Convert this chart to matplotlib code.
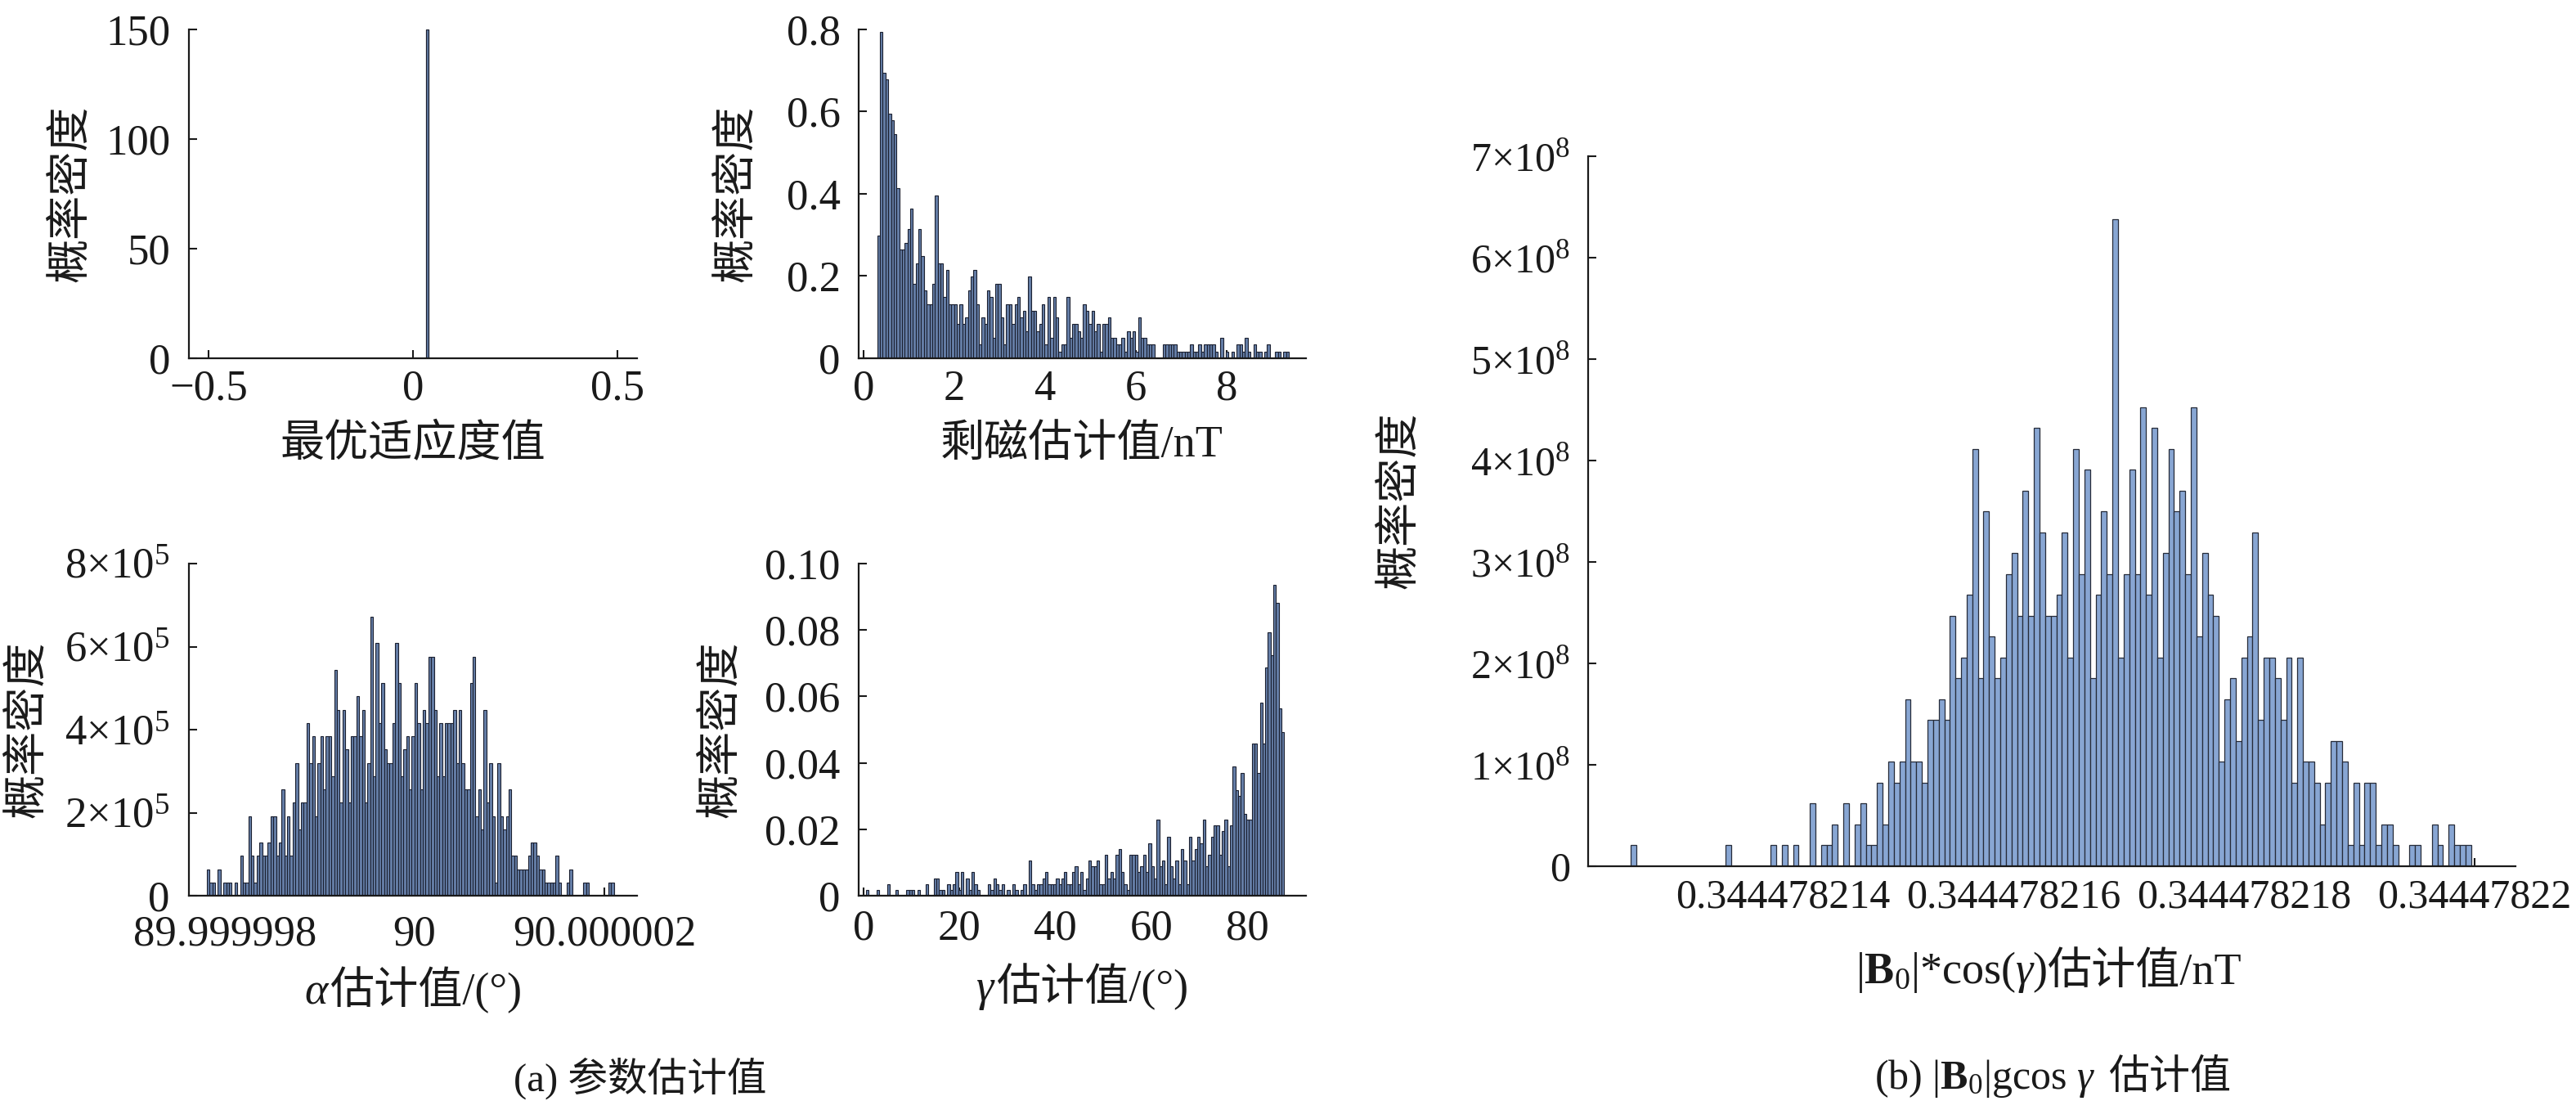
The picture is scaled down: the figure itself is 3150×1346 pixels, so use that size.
import numpy as np
import matplotlib
matplotlib.use('Agg')
import matplotlib.pyplot as plt
from matplotlib.offsetbox import TextArea, HPacker, AnnotationBbox

plt.rcParams['font.family'] = ['Liberation Serif', 'Noto Sans CJK SC']
plt.rcParams['mathtext.fontset'] = 'custom'
plt.rcParams['mathtext.rm'] = 'Liberation Serif'
plt.rcParams['mathtext.it'] = 'Liberation Serif:italic'
plt.rcParams['mathtext.bf'] = 'Liberation Serif:bold'
plt.rcParams['axes.unicode_minus'] = True

# ---------------------------------------------------------------- data
N_SAMPLES = 1000

# best fitness histogram (single bin)
fit_bin_left = 0.0322
fit_bin_width = 1 / 150
fit_density = [150]

# remanence estimate histogram (counts per bin)
rem_bin_start = 0.30
rem_bin_width = 0.0605
rem_counts = [
    18, 48, 42, 41, 36, 35, 33, 25, 16, 16, 17, 19, 22, 11, 14, 19, 15, 10, 8, 8, 11, 24,
    14, 14, 9, 13, 8, 8, 8, 5, 8, 5,
    6, 10, 12, 13, 8, 2, 6, 5, 10, 9,
    3, 11, 11, 6, 2, 8, 8, 5, 8, 9,
    6, 7, 4, 12, 7, 7, 4, 5, 8, 2,
    9, 3, 9, 6, 1, 2, 2, 9, 3, 5,
    5, 4, 3, 8, 7, 5, 7, 4, 5, 1,
    5, 5, 6, 3,
    3, 2, 2, 3, 1, 4, 3, 4, 1, 6, 3, 3,
    2, 2, 2, 0, 0, 0,
    2, 2, 2, 2, 2, 1, 1, 1, 1, 1,
    2, 1, 1, 2, 1, 2, 2, 2, 2, 1,
    0, 3, 0, 1, 0, 1, 0,
    2, 2, 1, 3, 1,
    0, 2, 1, 1, 0, 1, 2,
    0, 0, 1, 1, 0, 1, 1,
]

# alpha estimate histogram
alpha_bin_start = 90 - 2.19e-6
alpha_bin_end = 90 + 2.10e-6
alpha_unit = 3.2e4          # density of one sample in a bin
alpha_counts = [
    2, 1, 1, 0, 2, 0, 1, 1, 1, 0, 1, 0, 3, 1, 1, 6, 3, 1,
    3, 4, 3, 3, 4, 6, 6, 3, 4, 8,
    3, 6, 3, 7, 10, 5, 7, 7, 13, 10,
    12, 6, 10, 12, 8, 12, 12, 9, 17, 14,
    7, 14, 11, 7, 12, 12, 15, 12, 14, 7,
    10, 21, 9, 19, 13, 16, 11, 10, 10, 13,
    19, 16, 9, 11, 12, 8, 12, 16, 13, 8,
    14, 13, 18, 18, 14, 9, 13, 9, 13, 13,
    13, 14, 10, 14, 10, 8, 8, 16, 18, 6,
    8, 5, 14, 7, 10, 6, 1, 10, 6, 5,
    6, 8, 3, 3, 2, 2, 2, 2, 3, 4,
    4, 3, 2, 2, 1, 1, 1, 1, 3, 1,
    0, 0, 1, 2, 0, 0, 0, 0, 1, 1, 0, 0, 0, 0, 0, 0, 0, 1, 1,
]

# gamma estimate histogram
gamma_bin_start = 0.45
gamma_bin_width = 0.567
gamma_counts = [
    1, 0, 0, 0, 1, 0, 0, 0, 2, 0, 0, 1, 0, 0, 0, 1, 1, 1, 0, 1,
    0, 0, 2, 0, 0, 3, 3, 1, 1, 0, 2, 1, 2, 4, 1, 4, 0, 3, 1, 4,
    2, 1, 0, 0, 0, 2, 1, 3, 2, 1, 2, 0, 1, 0, 2, 1, 0, 1, 2, 0,
    6, 2, 1, 2, 2, 3, 4, 2, 2, 2,
    3, 2, 3, 4, 2, 2, 4, 5, 2, 4,
    1, 3, 6, 5, 5, 6, 2, 2, 7, 3,
    4, 3, 7, 8, 4, 2, 1, 7, 7, 7,
    4, 5, 7, 4, 9, 5, 3, 13, 5, 6,
    2, 10, 5, 3, 6, 2, 8, 6, 2, 10,
    6, 8, 10, 9, 13, 5, 7, 10, 12, 12,
    7, 11, 13, 5, 12, 22, 18, 17, 21, 14,
    13, 13, 26, 26, 21, 33, 26, 39, 45, 41,
    53, 50, 32, 28,
]

# |B0|*cos(gamma) estimate histogram
b0_bin_start = 0.344478214 - 1.3206e-9
b0_bin_width = 4.86e-11
b0_counts = [
    1, 0, 0, 0, 0, 0, 0, 0, 0, 0, 0, 0, 0, 0, 0, 0, 0, 1, 0, 0,
    0, 0, 0, 0, 0, 1, 0, 1, 0, 1, 0, 0, 3, 0, 1, 1, 2, 0, 3, 0,
    2, 3, 1, 1, 4, 2, 5, 4, 5, 8, 5, 5, 4, 7, 7, 8, 7, 12, 9, 10,
    13, 20, 9, 17, 11, 9, 10, 14, 15, 12, 18, 12, 21, 16, 12, 12, 13, 16, 10, 20,
    14, 19, 9, 13, 17, 14, 31, 10, 14, 19, 14, 22, 13, 21, 10, 15, 20, 17, 18, 14,
    22, 11, 15, 13, 12, 5, 8, 9, 6, 10, 11, 16, 7, 10, 10, 9, 7, 10, 4, 10,
    5, 5, 4, 2, 4, 6, 6, 5, 1, 4, 1, 4, 4, 1, 2, 2, 1, 0, 0, 1,
    1, 0, 0, 2, 1, 0, 2, 1, 1, 1,
]

# tick values / labels
fit_xticks = [-0.5, 0, 0.5]
fit_xticklabels = ['\u22120.5', '0', '0.5']
fit_yticks = [0, 50, 100, 150]
rem_xticks = [0, 2, 4, 6, 8]
rem_yticks = [0, 0.2, 0.4, 0.6, 0.8]
rem_yticklabels = ['0', '0.2', '0.4', '0.6', '0.8']
alpha_xticks = [90 - 2e-6, 90, 90 + 2e-6]
alpha_xticklabels = ['89.999998', '90', '90.000002']
alpha_xminor = [90 - 1e-6, 90 + 1e-6]
alpha_yticks = [0, 2e5, 4e5, 6e5, 8e5]
alpha_yticklabels = ['0', '2\u00d710$^{5}$', '4\u00d710$^{5}$', '6\u00d710$^{5}$', '8\u00d710$^{5}$']
gamma_xticks = [0, 20, 40, 60, 80]
gamma_yticks = [0, 0.02, 0.04, 0.06, 0.08, 0.10]
gamma_yticklabels = ['0', '0.02', '0.04', '0.06', '0.08', '0.10']
b0_xticks = [0.344478214, 0.344478216, 0.344478218, 0.344478220]
b0_xticklabels = ['0.344478214', '0.344478216', '0.344478218', '0.34447822']
b0_xminor = [0.344478215, 0.344478217, 0.344478219]
b0_yticks = [0, 1e8, 2e8, 3e8, 4e8, 5e8, 6e8, 7e8]
b0_yticklabels = ['0'] + ['%d\u00d710$^{8}$' % i for i in range(1, 8)]

# ---------------------------------------------------------------- figure
W, H = 3150, 1346
fig = plt.figure(figsize=(W / 100, H / 100), dpi=100)

FAM = ['Liberation Serif', 'Noto Sans CJK SC']
TICK_FS = 38
LAB_FS = 39
CAP_FS = 35
DARK_FACE = '#667fa8'
DARK_EDGE = '#1b2030'
LIGHT_FACE = '#88a6d3'
LIGHT_EDGE = '#262b38'
INK = '#1a1a1a'


def make_axes(l, r, t, b):
    ax = fig.add_axes([l / W, 1 - b / H, (r - l) / W, (b - t) / H])
    for s in ('top', 'right'):
        ax.spines[s].set_visible(False)
    for s in ('left', 'bottom'):
        ax.spines[s].set_linewidth(1.6)
        ax.spines[s].set_color(INK)
    ax.tick_params(which='both', direction='in', length=7, width=1.5,
                   color=INK, labelcolor=INK, labelsize=TICK_FS)
    ax.tick_params(axis='y', pad=16)
    ax.tick_params(axis='x', pad=10)
    ax.set_axisbelow(True)
    return ax


def ftext(x, y, s, **kw):
    fig.text(x / W, 1 - y / H, s, ha='center', va='center', color=INK, **kw)


def rich(x, y, pieces, sep=0):
    areas = [TextArea(t, textprops=dict(color=INK, **p)) for t, p in pieces]
    box = HPacker(children=areas, align='baseline', pad=0, sep=sep)
    ab = AnnotationBbox(box, (x / W, 1 - y / H), xycoords='figure fraction',
                        frameon=False, box_alignment=(0.5, 0.5), pad=0)
    fig.add_artist(ab)


def hist_bars(ax, left_edges, heights, width, face, edge, lw):
    ax.bar(left_edges, heights, width=width, align='edge',
           color=face, edgecolor=edge, linewidth=lw, zorder=2)


LATIN = dict(family='Liberation Serif', fontsize=LAB_FS)
CJK = dict(family=FAM, fontsize=LAB_FS)

# ---- panel 1: best fitness
ax1 = make_axes(231, 779, 36, 438)
hist_bars(ax1, [fit_bin_left], fit_density, fit_bin_width, DARK_FACE, DARK_EDGE, 0.9)
ax1.set_xlim(-0.548, 0.548)
ax1.set_ylim(0, 150)
ax1.set_xticks(fit_xticks, fit_xticklabels)
ax1.set_yticks(fit_yticks, [str(v) for v in fit_yticks])
ftext(505, 545, '最优适应度值', family=FAM, fontsize=LAB_FS)
ftext(88, 237, '概率密度', family=FAM, fontsize=LAB_FS, rotation=90)

# ---- panel 2: remanence
ax2 = make_axes(1050, 1597, 36, 438)
rc = np.array(rem_counts, dtype=float)
rem_edges = rem_bin_start + rem_bin_width * np.arange(len(rc))
hist_bars(ax2, rem_edges, rc / (N_SAMPLES * rem_bin_width), rem_bin_width,
          DARK_FACE, DARK_EDGE, 0.8)
ax2.set_xlim(-0.11, 9.75)
ax2.set_ylim(0, 0.8)
ax2.set_xticks(rem_xticks, [str(v) for v in rem_xticks])
ax2.set_yticks(rem_yticks, rem_yticklabels)
ftext(1323, 545, '剩磁估计值/nT', family=FAM, fontsize=LAB_FS)
ftext(902, 237, '概率密度', family=FAM, fontsize=LAB_FS, rotation=90)

# ---- panel 3: alpha
ax3 = make_axes(231, 779, 689, 1095)
ac = np.array(alpha_counts, dtype=float)
alpha_w = (alpha_bin_end - alpha_bin_start) / len(ac)
alpha_edges = alpha_bin_start + alpha_w * np.arange(len(ac))
hist_bars(ax3, alpha_edges, ac * alpha_unit, alpha_w, DARK_FACE, DARK_EDGE, 0.8)
ax3.set_xlim(90 - 2.379e-6, 90 + 2.345e-6)
ax3.set_ylim(0, 8e5)
ax3.set_xticks(alpha_xticks, alpha_xticklabels)
ax3.set_xticks(alpha_xminor, minor=True)
ax3.set_yticks(alpha_yticks, alpha_yticklabels)
ax3.tick_params(axis='x', pad=17)
ax3.tick_params(axis='y', pad=17)
rich(505, 1210, [('$\\alpha$', LATIN), ('估计值/(°)', CJK)])
ftext(35, 892, '概率密度', family=FAM, fontsize=LAB_FS, rotation=90)

# ---- panel 4: gamma
ax4 = make_axes(1050, 1597, 689, 1095)
gc = np.array(gamma_counts, dtype=float)
gamma_edges = gamma_bin_start + gamma_bin_width * np.arange(len(gc))
hist_bars(ax4, gamma_edges, gc / (N_SAMPLES * gamma_bin_width), gamma_bin_width,
          DARK_FACE, DARK_EDGE, 0.8)
ax4.set_xlim(-1.0, 92.3)
ax4.set_ylim(0, 0.10)
ax4.set_xticks(gamma_xticks, [str(v) for v in gamma_xticks])
ax4.set_yticks(gamma_yticks, gamma_yticklabels)
ax4.tick_params(axis='x', pad=12)
rich(1323, 1207, [('$\\gamma$', LATIN), ('估计值/(°)', CJK)])
ftext(883, 892, '概率密度', family=FAM, fontsize=LAB_FS, rotation=90)

ftext(783, 1318, '(a) 参数估计值', family=FAM, fontsize=CAP_FS)

# ---- panel 5: |B0| cos(gamma)
ax5 = make_axes(1942, 3076, 191, 1059)
bc = np.array(b0_counts, dtype=float)
b0_edges = b0_bin_start + b0_bin_width * np.arange(len(bc))
hist_bars(ax5, b0_edges, bc / (N_SAMPLES * b0_bin_width), b0_bin_width,
          LIGHT_FACE, LIGHT_EDGE, 0.9)
ax5.set_xlim(0.344478214 - 1.688e-9, 0.344478214 + 6.355e-9)
ax5.set_ylim(0, 7e8)
ax5.set_xticks(b0_xticks, b0_xticklabels)
ax5.set_xticks(b0_xminor, minor=True)
ax5.set_yticks(b0_yticks, b0_yticklabels)
ax5.tick_params(labelsize=36)
ax5.tick_params(axis='x', pad=11)
rich(2505, 1189, [('$|\\mathbf{B}_0|$*cos($\\gamma$)', LATIN), ('估计值/nT', CJK)])
ftext(1713, 612, '概率密度', family=FAM, fontsize=LAB_FS, rotation=90)
rich(2510, 1318, [('(b) $|\\mathbf{B}_0|$gcos $\\gamma$', dict(family='Liberation Serif', fontsize=CAP_FS + 1)),
                  ('估计值', dict(family=FAM, fontsize=CAP_FS + 1))], sep=12)

fig.savefig('out.png', dpi=100, facecolor='white')
